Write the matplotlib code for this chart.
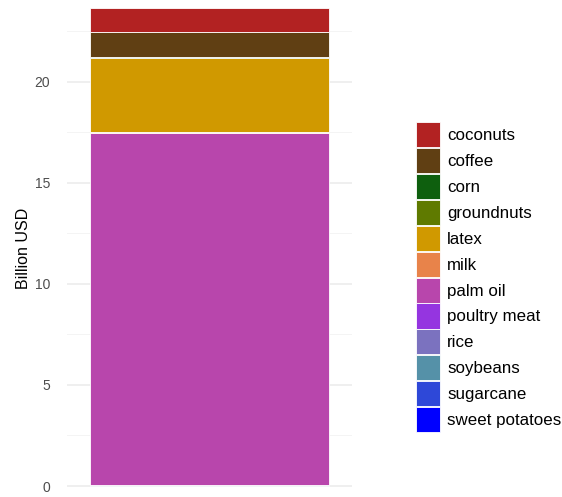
import numpy as np
import matplotlib.pyplot as plt
from matplotlib.patches import Patch

plt.rcParams['font.family'] = ['Liberation Sans', 'DejaVu Sans']

# categories in legend order (first one is stacked on top)
crops = ['coconuts', 'coffee', 'corn', 'groundnuts', 'latex', 'milk',
         'palm oil', 'poultry meat', 'rice', 'soybeans', 'sugarcane',
         'sweet potatoes']
values = [1.19, 1.26, 0.01, 0.02, 3.64, 0.06,
          17.42, 0.01, 0.01, 0.01, 0.01, 0.01]
colors = ['#B22222', '#603F13', '#0E5F0E', '#5F7A00', '#D09900', '#E8834A',
          '#B846AC', '#9535E0', '#7B72BF', '#5591A8', '#2E48D8', '#0000FF']

fig = plt.figure(figsize=(5.62, 4.97), dpi=100)
ax = fig.add_axes([67 / 562, 0, 285 / 562, 1])

# stack from the bottom: last category sits at the bottom
bottom = 0.0
for name, v, c in reversed(list(zip(crops, values, colors))):
    ax.bar(0, v, width=0.9, bottom=bottom, color=c, edgecolor='white',
           linewidth=0.6)
    bottom += v

ax.set_xlim(-0.537, 0.537)
ax.set_ylim(-0.544, 24.04)
ax.set_yticks([0, 5, 10, 15, 20])
ax.set_yticks([2.5, 7.5, 12.5, 17.5, 22.5], minor=True)
ax.grid(axis='y', which='major', color='#ebebeb', linewidth=1.1)
ax.grid(axis='y', which='minor', color='#f2f2f2', linewidth=0.6)
ax.set_axisbelow(True)
ax.set_xticks([])
for s in ax.spines.values():
    s.set_visible(False)
ax.tick_params(axis='y', which='both', length=0, labelsize=10,
               labelcolor='#4d4d4d', pad=12)
ax.set_ylabel('Billion USD', fontsize=11.5, labelpad=3)

handles = [Patch(facecolor=c, edgecolor='white', linewidth=0.6) for c in colors]
fig.legend(handles, crops, loc='upper left', bbox_to_anchor=(416 / 562, 1 - 122 / 497),
           frameon=False, fontsize=12.2, handlelength=1.42, handleheight=1.9,
           labelspacing=0.05, handletextpad=0.41, borderaxespad=0, borderpad=0)

fig.savefig('out.png', dpi=100)
